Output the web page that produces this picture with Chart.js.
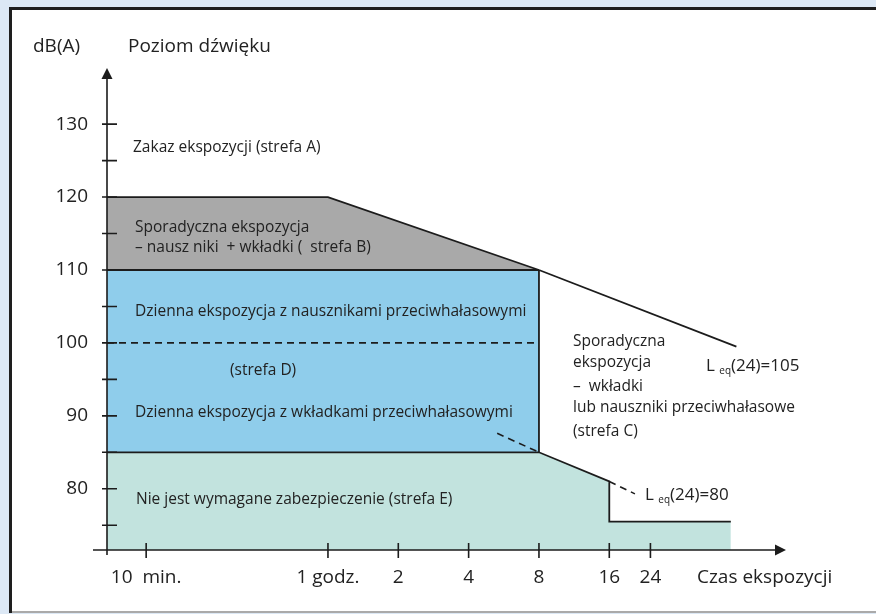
<!DOCTYPE html>
<html lang="pl">
<head>
<meta charset="utf-8">
<title>Poziom dźwięku</title>
<script src="https://cdn.jsdelivr.net/npm/chart.js@4.4.1/dist/chart.umd.min.js"></script>
<style>
  html, body { margin: 0; padding: 0; background: #dce8f5; }
  canvas { display: block; }
</style>
</head>
<body>
<canvas id="noiseChart" width="876" height="614"></canvas>
<script>
// Axis ticks
const yTickValues = [80, 90, 100, 110, 120, 130];
const yMinorValues = [75, 85, 95, 105, 115, 125];
const xTickHours = [1 / 6, 1, 2, 4, 8, 16, 24];
const xTickLabels = ['10  min.', '1 godz.', '2', '4', '8', '16', '24'];

// Scale range (hours on a log axis, dB(A) linear)
const X_MIN = 0.1133, X_MAX = 91.3;
const Y_MIN = 71.6, Y_MAX = 137.7;

// Zone boundaries
const zoneBHours = [X_MIN, 1, 8];
const zoneBLevels = [120, 120, 110];
const zoneDHours = [X_MIN, 8];
const zoneDLevels = [110, 110];
const zoneEHours = [X_MIN, 8, 16, 16, 53];
const zoneELevels = [85, 85, 81, 75.5, 75.5];
const limit105Hours = [8, 56];
const limit105Levels = [110, 99.5];
const edge8Hours = [8, 8];
const edge8Levels = [110, 85];
const dash100Hours = [X_MIN, 8];
const dash100Levels = [100, 100];
const dashPlugsHours = [5.3, 8];
const dashPlugsLevels = [87.6, 85];
const dash80Hours = [16, 20.6];
const dash80Levels = [81, 79.3];

const INK = '#1c1c1c';
const FONT = '"Open Sans", sans-serif';

function pts(xs, ys) {
    return xs.map((x, i) => ({ x: x, y: ys[i] }));
}

function lineSet(xs, ys, extra) {
    return Object.assign({
        data: pts(xs, ys),
        borderColor: INK,
        borderWidth: 1.8,
        pointRadius: 0,
        tension: 0,
        fill: false,
        borderJoinStyle: 'miter'
    }, extra || {});
}

// Labels inside the diagram: [text, x, y, size]
const notes = [
    ['dB(A)', 33, 47, 19],
    ['Poziom dźwięku', 128, 47, 19],
    ['Czas ekspozycji', 697, 578, 19],
    ['Zakaz ekspozycji (strefa A)', 133, 148, 15.5],
    ['Sporadyczna ekspozycja', 135, 228, 15.5],
    ['– nausz niki  + wkładki (  strefa B)', 135, 248, 15.5],
    ['Dzienna ekspozycja z nausznikami przeciwhałasowymi', 135, 312, 15.5],
    ['(strefa D)', 230, 371, 15.5],
    ['Dzienna ekspozycja z wkładkami przeciwhałasowymi', 135, 413, 15.5],
    ['Nie jest wymagane zabezpieczenie (strefa E)', 136, 500, 15.5],
    ['Sporadyczna', 573, 342, 15.5],
    ['ekspozycja', 573, 363, 15.5],
    ['–  wkładki', 573, 387, 15.5],
    ['lub nauszniki przeciwhałasowe', 573, 408, 15.5],
    ['(strefa C)', 573, 432, 15.5]
];

const diagramPlugin = {
    id: 'diagram',
    beforeDraw(chart) {
        const ctx = chart.ctx;
        ctx.save();
        ctx.fillStyle = '#dce8f5';
        ctx.fillRect(0, 0, chart.width, chart.height);
        ctx.fillStyle = '#ffffff';
        ctx.fillRect(11, 9, chart.width - 11, 603);
        ctx.strokeStyle = '#1e1e1e';
        ctx.lineWidth = 3;
        ctx.beginPath();
        ctx.moveTo(9, 8.5); ctx.lineTo(chart.width, 8.5);
        ctx.moveTo(10.5, 7); ctx.lineTo(10.5, 613);
        ctx.stroke();
        ctx.strokeStyle = '#aaaaaa';
        ctx.lineWidth = 2;
        ctx.beginPath();
        ctx.moveTo(12, 612); ctx.lineTo(chart.width, 612);
        ctx.stroke();
        ctx.restore();
    },
    afterDatasetsDraw(chart) {
        const ctx = chart.ctx;
        const xs = chart.scales.x, ys = chart.scales.y;
        const ax = xs.left, ay = ys.bottom;
        ctx.save();
        ctx.strokeStyle = INK;
        ctx.fillStyle = INK;
        ctx.lineWidth = 1.6;

        // axes
        ctx.beginPath();
        ctx.moveTo(ax, ys.top + 10); ctx.lineTo(ax, ay + 5);
        ctx.moveTo(ax - 14, ay); ctx.lineTo(xs.right - 10, ay);
        ctx.stroke();
        ctx.beginPath();
        ctx.moveTo(ax, ys.top); ctx.lineTo(ax - 5.5, ys.top + 11); ctx.lineTo(ax + 5.5, ys.top + 11);
        ctx.closePath(); ctx.fill();
        ctx.beginPath();
        ctx.moveTo(xs.right, ay); ctx.lineTo(xs.right - 11, ay - 5.5); ctx.lineTo(xs.right - 11, ay + 5.5);
        ctx.closePath(); ctx.fill();

        // tick marks
        ctx.beginPath();
        yTickValues.concat(yMinorValues).forEach(v => {
            const py = ys.getPixelForValue(v);
            ctx.moveTo(ax - 5, py); ctx.lineTo(ax + 10, py);
        });
        xTickHours.forEach(v => {
            const px = xs.getPixelForValue(v);
            ctx.moveTo(px, ay - 7); ctx.lineTo(px, ay + 8);
        });
        ctx.stroke();

        // text
        ctx.fillStyle = '#222222';
        ctx.textBaseline = 'middle';
        ctx.textAlign = 'left';
        notes.forEach(n => {
            ctx.font = n[3] + 'px ' + FONT;
            ctx.fillText(n[0], n[1], n[2]);
        });
        drawLeq(ctx, '(24)=105', 706, 366);
        drawLeq(ctx, '(24)=80', 645, 495);
        ctx.restore();
    }
};

function drawLeq(ctx, rest, x, y) {
    ctx.font = '17px ' + FONT;
    ctx.fillText('L', x, y);
    let w = ctx.measureText('L ').width;
    ctx.font = '10px ' + FONT;
    ctx.fillText('eq', x + w, y + 5);
    w += ctx.measureText('eq').width;
    ctx.font = '17px ' + FONT;
    ctx.fillText(rest, x + w, y);
}

new Chart(document.getElementById('noiseChart'), {
    type: 'line',
    data: {
        datasets: [
            lineSet(dash100Hours, dash100Levels, { borderWidth: 1.6, borderDash: [7, 5] }),
            lineSet(dashPlugsHours, dashPlugsLevels, { borderWidth: 1.6, borderDash: [7, 5] }),
            lineSet(dash80Hours, dash80Levels, { borderWidth: 1.6, borderDash: [7, 5] }),
            lineSet(edge8Hours, edge8Levels),
            lineSet(limit105Hours, limit105Levels),
            lineSet(zoneEHours, zoneELevels, { fill: 'start', backgroundColor: '#c2e3de' }),
            lineSet(zoneDHours, zoneDLevels, { fill: { value: 85 }, backgroundColor: '#8fcdeb' }),
            lineSet(zoneBHours, zoneBLevels, { fill: { value: 110 }, backgroundColor: '#a9a9a9' })
        ]
    },
    options: {
        responsive: false,
        animation: false,
        layout: { padding: { left: 0, top: 68, right: 90, bottom: 0 } },
        plugins: {
            legend: { display: false },
            tooltip: { enabled: false }
        },
        scales: {
            x: {
                type: 'logarithmic',
                min: X_MIN,
                max: X_MAX,
                afterBuildTicks: s => { s.ticks = xTickHours.map(v => ({ value: v })); },
                afterFit: s => { s.height = 64; },
                grid: { display: false, drawTicks: false },
                border: { display: false },
                ticks: {
                    autoSkip: false,
                    maxRotation: 0,
                    padding: 16,
                    color: '#222222',
                    font: { family: FONT, size: 19 },
                    callback: (v, i) => xTickLabels[i]
                }
            },
            y: {
                type: 'linear',
                min: Y_MIN,
                max: Y_MAX,
                afterBuildTicks: s => { s.ticks = yTickValues.map(v => ({ value: v })); },
                afterFit: s => { s.width = 107; },
                grid: { display: false, drawTicks: false },
                border: { display: false },
                ticks: {
                    padding: 19,
                    color: '#222222',
                    font: { family: FONT, size: 19 },
                    callback: v => String(v)
                }
            }
        }
    },
    plugins: [diagramPlugin]
});
</script>
</body>
</html>
